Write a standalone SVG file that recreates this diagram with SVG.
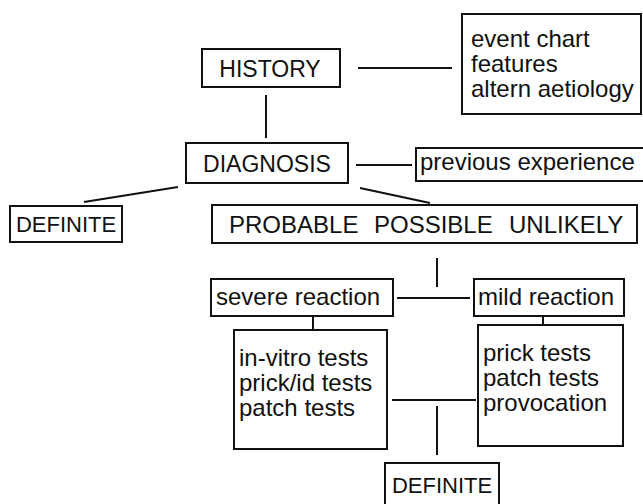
<svg xmlns="http://www.w3.org/2000/svg" width="643" height="504" viewBox="0 0 643 504">
<style>
.box{fill:#fff;stroke:#111;stroke-width:2}
.ln{stroke:#111;stroke-width:2;fill:none}
text{font-family:"Liberation Sans",Arial,sans-serif;font-size:24px;fill:#111}
.cap{font-size:23px}
.def{font-size:22px}
</style>
<rect width="643" height="504" fill="#fff"/>
<g id="connectors">
<line class="ln" x1="358" y1="68" x2="452" y2="68"/>
<line class="ln" x1="266" y1="95" x2="266" y2="138"/>
<line class="ln" x1="356" y1="165" x2="412" y2="165"/>
<line class="ln" x1="178" y1="187" x2="84" y2="202"/>
<line class="ln" x1="360" y1="188" x2="430" y2="203"/>
<line class="ln" x1="437" y1="258" x2="437" y2="287"/>
<line class="ln" x1="397" y1="298" x2="470" y2="298"/>
<line class="ln" x1="313" y1="316" x2="313" y2="331"/>
<line class="ln" x1="543" y1="316" x2="543" y2="326"/>
<line class="ln" x1="392" y1="400" x2="476" y2="400"/>
<line class="ln" x1="437" y1="406" x2="437" y2="455"/>
</g>
<g id="history"><rect class="box" x="202" y="49" width="138" height="38"/><text class="cap" x="270" y="77" text-anchor="middle">HISTORY</text></g>
<g id="event"><rect class="box" x="462" y="14" width="179" height="100"/><text x="471" y="47">event chart</text><text x="471" y="72">features</text><text x="471" y="97">altern aetiology</text></g>
<g id="diagnosis"><rect class="box" x="186" y="143" width="162" height="40"/><text class="cap" x="267" y="172" text-anchor="middle">DIAGNOSIS</text></g>
<g id="previous"><rect class="box" x="416" y="148" width="230" height="33"/><text x="420" y="170">previous experience</text></g>
<g id="definite1"><rect class="box" x="10" y="206" width="112" height="36"/><text class="def" x="66" y="232" text-anchor="middle">DEFINITE</text></g>
<g id="probable"><rect class="box" x="212" y="205" width="425" height="38"/><text y="233"><tspan x="229">PROBABLE</tspan><tspan x="374">POSSIBLE</tspan><tspan x="509">UNLIKELY</tspan></text></g>
<g id="severe"><rect class="box" x="211" y="279" width="182" height="37"/><text x="216" y="305">severe reaction</text></g>
<g id="mild"><rect class="box" x="474" y="279" width="150" height="37"/><text x="478" y="305">mild reaction</text></g>
<g id="invitro"><rect class="box" x="234" y="330" width="153" height="119"/><text x="239" y="366">in-vitro tests</text><text x="239" y="391">prick/id tests</text><text x="239" y="416">patch tests</text></g>
<g id="prick"><rect class="box" x="478" y="325" width="145" height="121"/><text x="483" y="361">prick tests</text><text x="483" y="386">patch tests</text><text x="483" y="411">provocation</text></g>
<g id="definite2"><path class="ln" d="M385 504 V463 H499 V504"/><text class="def" x="442" y="493" text-anchor="middle">DEFINITE</text></g>
</svg>
